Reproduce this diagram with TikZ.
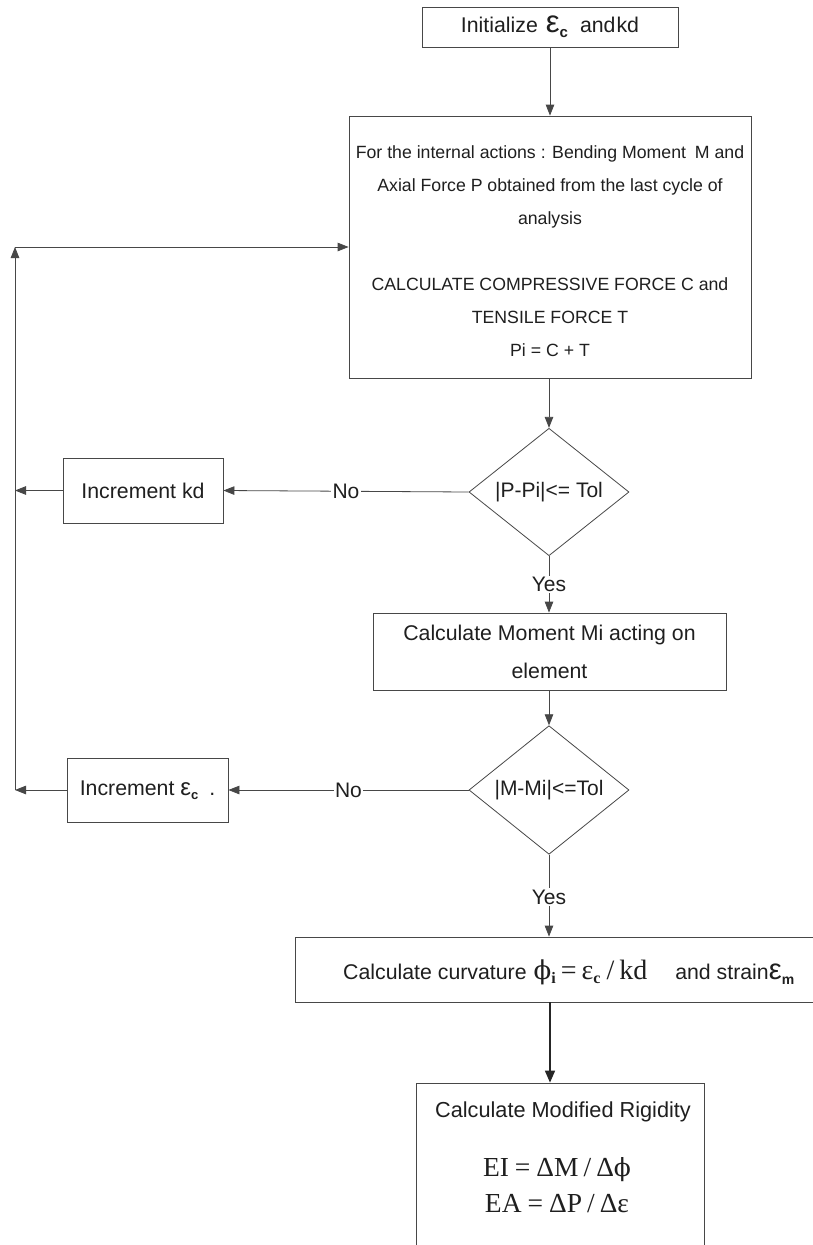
\documentclass[tikz,border=0pt]{standalone}
\usepackage{fontspec}
\setmainfont{Liberation Sans}
\newfontfamily\tms{Liberation Serif}
\newfontfamily\dvs{DejaVu Serif}
\usetikzlibrary{shapes.geometric,arrows.meta}
\newcommand\fsz[2]{\fontsize{#1}{#2}\selectfont}
\tikzset{
  ln/.style={draw=black!72, line width=0.8pt},
  arr/.style={ln, -{Triangle[length=11pt,width=8.5pt]}},
  boxshape/.style={rectangle, draw=black!72, line width=0.8pt, inner sep=0pt, align=center, text=black!88, font=\fsz{21.3}{38}},
  txt/.style={inner sep=0pt, align=center, text=black!88},
  dia/.style={diamond, draw=black!72, line width=0.8pt, inner sep=0pt, minimum width=160pt, minimum height=96pt, text=black!88, font=\fsz{21}{25}},
  lbl/.style={fill=white, inner sep=1.5pt, text=black!88, font=\fsz{21}{25}},
}
\begin{document}
\begin{tikzpicture}[x=1pt,y=-1pt]
\useasboundingbox[fill=white] (0,0) rectangle (812,1245);

% nodes
\node[boxshape, minimum width=256pt, minimum height=40pt] (init) at (550,27)
  {Initialize\hspace{8pt}{\fsz{31}{31}ε}\raisebox{-5pt}{\fsz{15}{15}\bfseries c}\hspace{12pt}and\hspace{1pt}kd};

\node[boxshape, minimum width=402pt, minimum height=262pt] (calc1) at (550,247) {};
\node[txt, font=\fsz{17.7}{33}] (calc1t) at (550,251)
  {For the internal actions : Bending Moment\hspace{4pt} M and\\
   Axial Force P obtained from the last cycle of\\
   analysis\\[33pt]
   CALCULATE COMPRESSIVE FORCE C and\\
   TENSILE FORCE T\\
   Pi = C + T};

\node[dia] (d1) at (549,492) {|P-Pi|<= Tol};
\node[boxshape, minimum width=160pt, minimum height=65pt] (inckd) at (143,490.5) {Increment kd};

\node[boxshape, minimum width=353pt, minimum height=77pt] (moment) at (549.5,651.5)
  {Calculate Moment Mi acting on\\ element};

\node[dia] (d2) at (549,790) {|M-Mi|<=Tol};
\node[boxshape, minimum width=161pt, minimum height=64pt] (incec) at (147.5,790)
  {Increment {\fsz{24}{24}ε}\raisebox{-4pt}{\fsz{13}{13}\bfseries c}\hspace{11pt}.};

\node[boxshape, minimum width=522pt, minimum height=65pt] (curv) at (556,969.5) {};
\node[txt, anchor=west, font=\fsz{21.3}{25}] (curvt) at (343,972)
  {Calculate curvature\hspace{7pt}{\tms\fsz{28}{28}{\dvs\fsz{26}{26}ϕ}\raisebox{-4pt}{\fsz{16}{16}\bfseries i}\hspace{5pt}=\hspace{5pt}ε\raisebox{-4pt}{\fsz{16}{16}\bfseries c}\hspace{6pt}/\hspace{5pt}kd}\hspace{28pt}and strain{\fsz{29}{29}ε}\raisebox{-5pt}{\fsz{14}{14}\bfseries m}};

\node[boxshape, minimum width=288pt, minimum height=180pt] (rig) at (560,1173) {};
\node[txt, font=\fsz{21.7}{25}] (rigt) at (563,1112) {Calculate Modified Rigidity};
\node[txt, font=\tms\fsz{27.5}{36}] (rigf) at (557,1185)
  {EI\hspace{6pt}=\hspace{6pt}ΔM\hspace{5pt}/\hspace{5pt}Δ{\dvs\fsz{25}{25}ϕ}\\ EA\hspace{6pt}=\hspace{6pt}ΔP\hspace{5pt}/\hspace{5pt}Δε};

% loop-back coordinates
\coordinate (L1) at (15,247);
\coordinate (L2) at (15,790);

% connectors
\draw[arr] (init.south) -- (init.south |- calc1.north);
\draw[arr] (calc1.south -| d1) -- (d1.north);
\draw[arr] (d1.west) -- node[lbl]{No} (inckd.east);
\draw[arr] (inckd.west) -- (inckd.west -| L1);
\draw[arr] (d1.south) -- node[lbl]{Yes} (d1.south |- moment.north);
\draw[arr] (moment.south -| d2) -- (d2.north);
\draw[arr] (d2.west) -- node[lbl]{No} (incec.east);
\draw[arr] (incec.west) -- (L2);
\draw[arr] (L2) -- (L1);
\draw[arr] (L1) -- (L1 -| calc1.west);
\draw[arr] (d2.south) -- node[lbl, pos=0.52]{Yes} (d2.south |- curv.north);
\draw[draw=black!85, line width=1.6pt, -{Triangle[length=12pt,width=10pt]}] (curv.south -| init) -- (rig.north -| init);
\end{tikzpicture}
\end{document}
